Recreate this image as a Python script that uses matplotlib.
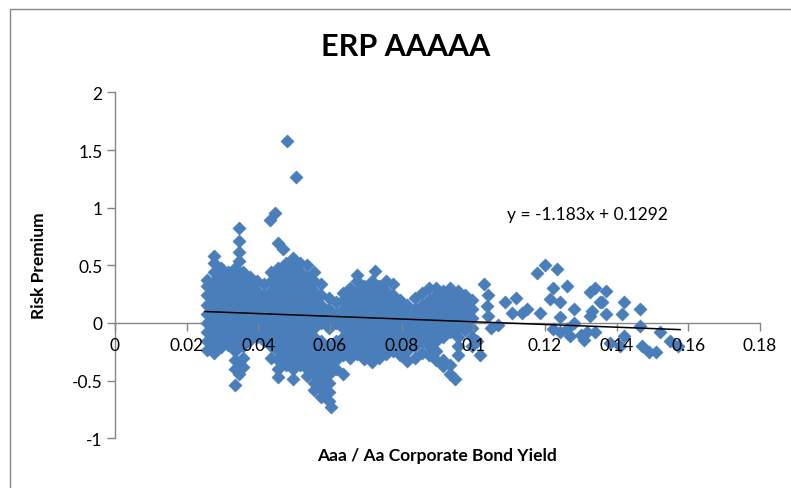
import matplotlib
matplotlib.use("Agg")
import matplotlib.pyplot as plt
from matplotlib.patches import Rectangle

# Aaa/Aa yield (x) vs equity risk premium (y)
col_x = [0.0256, 0.0276, 0.0296, 0.0316, 0.0336, 0.0356, 0.0376, 0.0396,
         0.0416, 0.0436, 0.0456, 0.0476, 0.0496, 0.0516, 0.0536, 0.0556,
         0.0576, 0.0596, 0.0616, 0.0636, 0.0656, 0.0676, 0.0696, 0.0716,
         0.0736, 0.0756, 0.0776, 0.0796, 0.0816, 0.0836, 0.0856, 0.0876,
         0.0896, 0.0916, 0.0936, 0.0956, 0.0976, 0.0996]
col_y = [
    [0.37, 0.32, 0.24, 0.16, 0.08, 0.0, -0.08, -0.16, -0.23],
    [0.58, 0.52, 0.44, 0.36, 0.28, 0.20, 0.12, 0.04, -0.04, -0.12, -0.20, -0.26],
    [0.48, 0.40, 0.32, 0.24, 0.16, 0.08, 0.0, -0.08, -0.16, -0.21],
    [0.44, 0.36, 0.28, 0.20, 0.12, 0.04, -0.04, -0.12, -0.19],
    [0.48, 0.40, 0.32, 0.24, 0.16, 0.08, 0.0, -0.08, -0.16, -0.24, -0.32, -0.40, -0.54],
    [0.44, 0.36, 0.28, 0.20, 0.12, 0.04, -0.04, -0.12, -0.20, -0.30, -0.38],
    [0.40, 0.32, 0.24, 0.16, 0.08, 0.0, -0.08, -0.15],
    [0.36, 0.28, 0.20, 0.12, 0.04, -0.04, -0.12],
    [0.34, 0.24, 0.16, 0.08, 0.0, -0.08, -0.16],
    [0.44, 0.36, 0.28, 0.20, 0.12, 0.04, -0.04, -0.12, -0.20, -0.30],
    [0.48, 0.40, 0.32, 0.24, 0.16, 0.08, 0.0, -0.08, -0.16, -0.24, -0.32, -0.40, -0.47],
    [0.52, 0.44, 0.36, 0.28, 0.20, 0.12, 0.04, -0.04, -0.12, -0.20, -0.28, -0.36],
    [0.56, 0.48, 0.40, 0.32, 0.24, 0.16, 0.08, 0.0, -0.08, -0.16, -0.24, -0.32, -0.40, -0.49],
    [0.52, 0.44, 0.36, 0.28, 0.20, 0.12, 0.04, -0.04, -0.12, -0.20, -0.28, -0.36],
    [0.50, 0.40, 0.32, 0.24, 0.16, 0.08, 0.0, -0.08, -0.16, -0.24, -0.32, -0.40, -0.46],
    [0.44, 0.36, 0.28, 0.20, 0.12, 0.04, -0.04, -0.12, -0.20, -0.28, -0.36, -0.44, -0.52, -0.58],
    [0.34, 0.24, 0.16, 0.08, 0.0, -0.16, -0.24, -0.32, -0.40, -0.48, -0.56, -0.64],
    [0.22, 0.12, 0.04, -0.04, -0.20, -0.28, -0.36, -0.44, -0.52, -0.60, -0.68],
    [0.18, 0.08, 0.0, -0.16, -0.24, -0.32, -0.40],
    [0.26, 0.20, 0.12, 0.04, -0.04, -0.12, -0.20, -0.28, -0.44],
    [0.30, 0.24, 0.16, 0.08, 0.0, -0.08, -0.16, -0.24, -0.30],
    [0.42, 0.36, 0.28, 0.20, 0.12, 0.04, -0.04, -0.12, -0.20, -0.27],
    [0.32, 0.24, 0.16, 0.08, 0.0, -0.08, -0.16, -0.24, -0.31],
    [0.36, 0.28, 0.20, 0.12, 0.04, -0.04, -0.12, -0.20, -0.28, -0.34],
    [0.32, 0.24, 0.16, 0.08, 0.0, -0.08, -0.16, -0.24, -0.30],
    [0.36, 0.28, 0.20, 0.12, 0.04, -0.04, -0.12, -0.20, -0.27],
    [0.34, 0.24, 0.16, 0.08, 0.0, -0.08, -0.16, -0.24],
    [0.20, 0.12, 0.04, -0.04, -0.12, -0.20, -0.28],
    [0.16, 0.08, 0.0, -0.08, -0.16, -0.24, -0.33],
    [0.22, 0.12, 0.04, -0.04, -0.12, -0.20, -0.30],
    [0.26, 0.16, 0.08, 0.0, -0.08, -0.16, -0.26],
    [0.30, 0.20, 0.12, 0.04, -0.04, -0.12, -0.20, -0.28],
    [0.30, 0.24, 0.16, 0.08, 0.0, -0.08, -0.16, -0.24, -0.32],
    [0.28, 0.20, 0.12, 0.04, -0.04, -0.12, -0.32, -0.37],
    [0.30, 0.24, 0.16, 0.08, 0.0, -0.08, -0.36, -0.44],
    [0.28, 0.20, 0.12, 0.04, -0.04, -0.12, -0.20, -0.28],
    [0.24, 0.16, 0.08, 0.0, -0.06],
    [0.20, 0.12, 0.04, -0.04, -0.12, -0.20],
]

# isolated points (outliers and the thinner right-hand tail)
sparse_x = [0.0346, 0.0346, 0.0346, 0.0346, 0.0346, 0.0346, 0.0432, 0.0446,
            0.0456, 0.0469, 0.0480, 0.0505, 0.0604, 0.0726, 0.0950,
            0.1019, 0.1030, 0.1040, 0.1037, 0.1040, 0.1050, 0.1010, 0.1070,
            0.1088, 0.1120, 0.1107, 0.1135, 0.1149, 0.1177, 0.1200, 0.1233,
            0.1223, 0.1260, 0.1186, 0.1214, 0.1242, 0.1242, 0.1223, 0.1242,
            0.1280, 0.1280, 0.1270, 0.1300, 0.1316, 0.1326, 0.1354, 0.1326,
            0.1340, 0.1370, 0.1360, 0.1370, 0.1330, 0.1420, 0.1415, 0.1465,
            0.1465, 0.1340, 0.1380, 0.1420, 0.1410, 0.1470, 0.1490, 0.1510,
            0.1520, 0.1550, 0.1570, 0.1260, 0.1310]
sparse_y = [0.82, 0.71, 0.62, 0.54, -0.36, -0.44, 0.89, 0.95,
            0.69, 0.64, 1.58, 1.27, -0.73, 0.45, -0.49,
            -0.28, 0.34, 0.24, 0.15, 0.06, -0.04, -0.16, -0.02,
            0.18, 0.22, 0.09, 0.09, 0.12, 0.43, 0.50, 0.47,
            0.30, 0.32, 0.09, 0.21, 0.18, 0.05, -0.05, -0.08,
            0.12, 0.0, -0.11, -0.10, -0.08, 0.27, 0.18, 0.06,
            0.30, 0.28, 0.18, 0.08, 0.10, 0.18, 0.08, 0.12,
            -0.03, -0.08, -0.17, -0.11, -0.20, -0.20, -0.25, -0.25,
            -0.08, -0.16, -0.20, -0.05, -0.15]

# linear trendline as reported on the chart
slope = -1.183
intercept = 0.1292
trend_x = [0.0251, 0.1577]

x_ticks = [0, 0.02, 0.04, 0.06, 0.08, 0.1, 0.12, 0.14, 0.16, 0.18]
x_tick_labels = ["0", "0.02", "0.04", "0.06", "0.08", "0.1", "0.12", "0.14", "0.16", "0.18"]
y_ticks = [-1, -0.5, 0, 0.5, 1, 1.5, 2]
y_tick_labels = ["-1", "-0.5", "0", "0.5", "1", "1.5", "2"]

blue = "#4A7EBB"
grey = "#868686"
plt.rcParams["font.family"] = ["Lato", "DejaVu Sans"]

W, H = 791, 489
fig = plt.figure(figsize=(W / 100, H / 100), dpi=100)
ax = fig.add_axes([115 / W, (H - 439.3) / H, (760 - 115) / W, (439.3 - 93.4) / H])

xs, ys = [], []
for cx, cys in zip(col_x, col_y):
    for cy in cys:
        xs.append(cx)
        ys.append(cy)
xs += sparse_x
ys += sparse_y

ax.scatter(xs, ys, marker="D", s=46, color=blue, edgecolors=blue, linewidths=0.3,
           zorder=2, clip_on=False)

tx = trend_x
ty = [slope * v + intercept for v in tx]
ax.plot(tx, ty, color="black", lw=1.1, zorder=4)
ax.text(0.1093, 0.945, "y = -1.183x + 0.1292", fontsize=12.5, va="center", ha="left")

ax.set_xlim(0, 0.18)
ax.set_ylim(-1, 2)
ax.set_xticks(x_ticks)
ax.set_xticklabels(x_tick_labels)
ax.set_yticks(y_ticks)
ax.set_yticklabels(y_tick_labels)

for s in ["top", "right"]:
    ax.spines[s].set_visible(False)
ax.spines["bottom"].set_position(("data", 0))
for s in ["bottom", "left"]:
    ax.spines[s].set_color(grey)
    ax.spines[s].set_linewidth(1)
    ax.spines[s].set_zorder(1)
ax.tick_params(axis="both", direction="out", length=6, width=1, color=grey,
               labelsize=12.5, labelcolor="black")
ax.tick_params(axis="x", pad=4)
ax.tick_params(axis="y", pad=3)
ax.xaxis.set_zorder(3)
ax.patch.set_visible(False)

fig.text(406 / W, 1 - 47.5 / H, "ERP AAAAA", fontsize=22, fontweight="bold",
         ha="center", va="center")
fig.text(437 / W, 1 - 456 / H, "Aaa / Aa Corporate Bond Yield", fontsize=12.5,
         fontweight="bold", ha="center", va="center")
fig.text(39 / W, 1 - 266 / H, "Risk Premium", fontsize=12.5, fontweight="bold",
         rotation=90, ha="center", va="center")

fig.patches.append(Rectangle((10 / W, -0.1), 1.2, 1.1 - 9.5 / H, transform=fig.transFigure,
                             fill=False, edgecolor=grey, lw=1))

fig.savefig("out.png", dpi=100)
